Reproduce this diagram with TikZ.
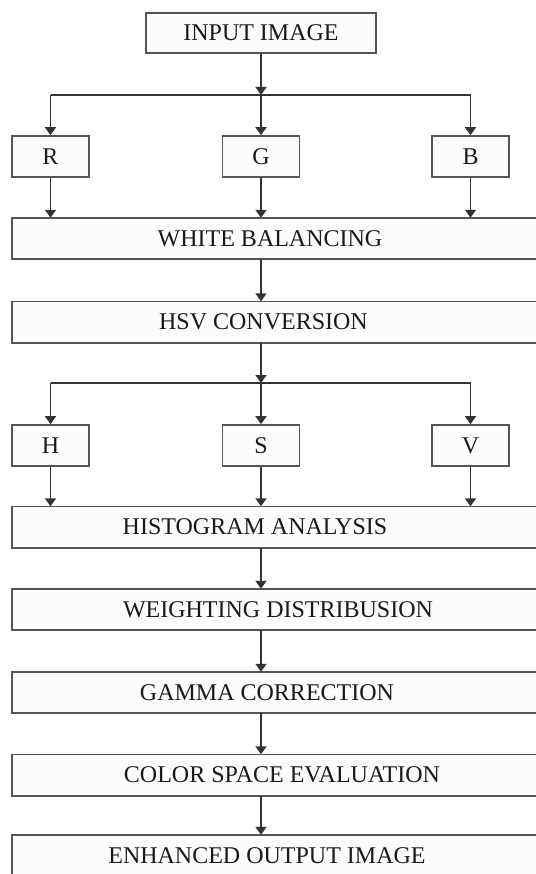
\documentclass[tikz,border=0pt]{standalone}
\usepackage{fontspec}
\setmainfont{Liberation Serif}
\usetikzlibrary{arrows.meta,backgrounds}
\definecolor{linegray}{HTML}{555555}
\definecolor{boxfill}{HTML}{FCFCFC}
\begin{document}
\begin{tikzpicture}[x=1pt, y=-1pt,
    every node/.style={font=\fontsize{24}{27}\selectfont, text=black!90},
    smallbox/.style={draw=linegray, fill=boxfill, line width=1.6pt, minimum width=77pt, minimum height=41pt, inner sep=0pt},
    wide/.style={minimum height=41pt, inner sep=0pt},
    frame/.style={draw=linegray, fill=boxfill, line width=1.6pt},
    arr/.style={-{Triangle[width=11pt,length=8pt]}, line width=1.4pt, draw=black!80},
    ln/.style={line width=1.4pt, draw=black!80}]

    \useasboundingbox (0,0) rectangle (535,874);

    %the wide boxes run off the right edge
    \coordinate (lft) at (12,0);
    \coordinate (rgt) at (550,0);

    \node [smallbox, minimum width=230pt, minimum height=40pt] (in) at (261,33) {INPUT IMAGE};
    \coordinate (s1) at (261,95);
    \node [smallbox] (r) at (50.5,156.5) {R};
    \node [smallbox] (g) at (261,156.5) {G};
    \node [smallbox] (b) at (470.5,156.5) {B};
    \node [wide] (wb) at (270,238.5) {WHITE BALANCING};
    \node [wide] (hsv) at (263.5,322) {HSV CONVERSION};
    \coordinate (s2) at (261,383);
    \node [smallbox] (h) at (50.5,445.5) {H};
    \node [smallbox] (s) at (261,445.5) {S};
    \node [smallbox] (v) at (470.5,445.5) {V};
    \node [wide] (hist) at (255,527) {HISTOGRAM ANALYSIS};
    \node [wide] (wd) at (278,609.5) {WEIGHTING DISTRIBUSION};
    \node [wide] (gc) at (267,692.5) {GAMMA CORRECTION};
    \node [wide] (cse) at (282,775) {COLOR SPACE EVALUATION};
    \node [wide] (out) at (267,855.5) {ENHANCED OUTPUT IMAGE};

    \begin{scope}[on background layer]
        \foreach \n in {wb,hsv,hist,wd,gc,cse,out}
            \draw [frame] (\n.north -| lft) rectangle (\n.south -| rgt);
    \end{scope}

    %R G B split
    \draw [arr] (in) -- (s1);
    \draw [ln] (s1 -| r) -- (s1 -| b);
    \foreach \n in {r,g,b} {
        \draw [arr] (s1 -| \n) -- (\n);
        \draw [arr] (\n) -- (\n |- wb.north);
    }
    \draw [arr] (wb.south -| s1) -- (hsv.north -| s1);

    %H S V split
    \draw [arr] (hsv.south -| s2) -- (s2);
    \draw [ln] (s2 -| h) -- (s2 -| v);
    \foreach \n in {h,s,v} {
        \draw [arr] (s2 -| \n) -- (\n);
        \draw [arr] (\n) -- (\n |- hist.north);
    }

    \draw [arr] (hist.south -| s1) -- (wd.north -| s1);
    \draw [arr] (wd.south -| s1) -- (gc.north -| s1);
    \draw [arr] (gc.south -| s1) -- (cse.north -| s1);
    \draw [arr] (cse.south -| s1) -- (out.north -| s1);

\end{tikzpicture}
\end{document}
